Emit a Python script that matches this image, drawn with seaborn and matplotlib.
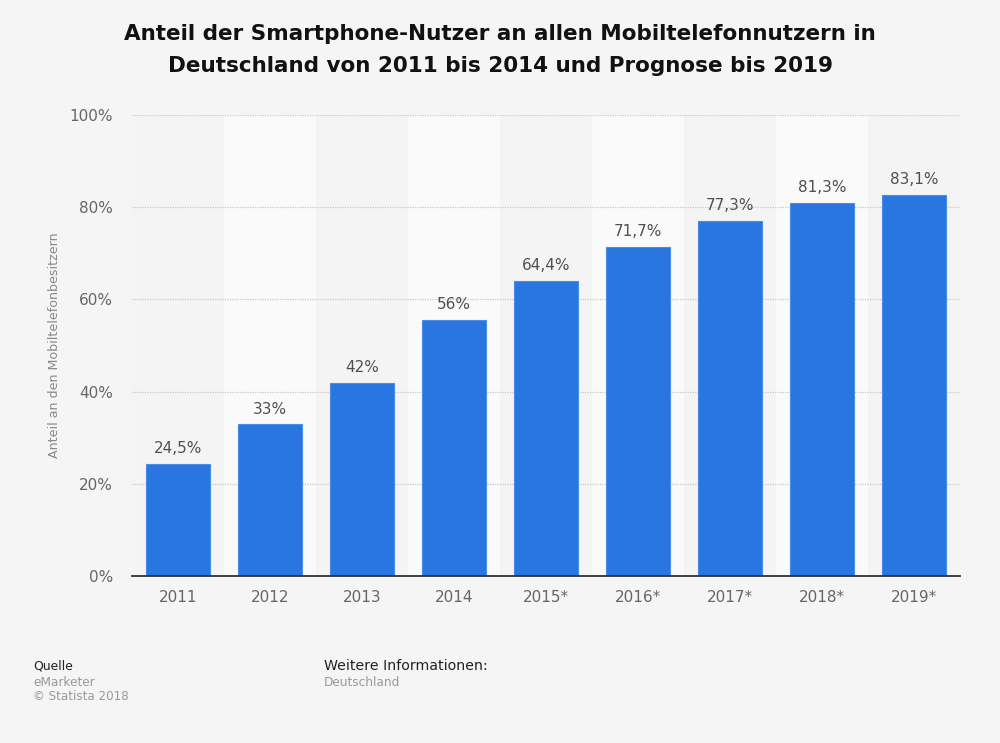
import matplotlib
matplotlib.use("Agg")
import matplotlib.pyplot as plt
import pandas as pd
import seaborn as sns

years = ["2011", "2012", "2013", "2014", "2015*", "2016*", "2017*", "2018*", "2019*"]
# bar heights, they sit slightly under the printed labels
shares = [24.3, 32.9, 41.9, 55.6, 64.0, 71.4, 77.0, 80.9, 82.7]
bar_labels = ["24,5%", "33%", "42%", "56%", "64,4%", "71,7%", "77,3%", "81,3%", "83,1%"]
y_ticks = [0, 20, 40, 60, 80, 100]
y_tick_labels = ["0%", "20%", "40%", "60%", "80%", "100%"]

BG = "#f5f5f5"
BLUE = "#2976e0"

sns.set_theme(style="white", rc={"figure.facecolor": BG, "axes.facecolor": BG, "font.family": "DejaVu Sans"})

df = pd.DataFrame({"Jahr": years, "Anteil": shares})

fig = plt.figure(figsize=(10, 7.43), dpi=100)
ax = fig.add_axes([132 / 1000, 1 - 576 / 743, 828 / 1000, 461 / 743])

# alternating column bands behind the bars
for i in range(len(years)):
    ax.axvspan(i - 0.5, i + 0.5, color="#fafafa" if i % 2 else "#f4f4f4", lw=0, zorder=0)

sns.barplot(data=df, x="Jahr", y="Anteil", color=BLUE, saturation=1, width=0.685,
            edgecolor="#4a8de6", linewidth=0.8, ax=ax, zorder=3)

ax.set_xlim(-0.5, len(years) - 0.5)
ax.set_ylim(0, 100)
ax.set_yticks(y_ticks)
ax.set_yticklabels(y_tick_labels)
ax.set_xlabel("")
ax.set_ylabel("Anteil an den Mobiltelefonbesitzern", fontsize=9.1, color="#888888")
ax.yaxis.set_label_coords(-0.0857, 0.5)
ax.yaxis.grid(True, color="#c8c8c8", linestyle=(0, (1, 1)), linewidth=0.9)
ax.xaxis.grid(False)
ax.set_axisbelow(False)
for line in ax.get_ygridlines():
    line.set_zorder(1)
ax.tick_params(axis="x", length=0, labelsize=11, labelcolor="#666666", pad=10)
ax.tick_params(axis="y", length=0, labelsize=11, labelcolor="#666666", pad=13.5)

for side in ["top", "left", "right"]:
    ax.spines[side].set_visible(False)
ax.spines["bottom"].set_color("#333333")
ax.spines["bottom"].set_linewidth(1.3)
ax.spines["bottom"].set_zorder(5)

for container in ax.containers:
    ax.bar_label(container, labels=bar_labels, padding=5.5, fontsize=11, color="#505050")

fig.text(0.5, 1 - 34 / 743, "Anteil der Smartphone-Nutzer an allen Mobiltelefonnutzern in",
         ha="center", va="center", fontsize=15.45, fontweight="bold", color="#111111")
fig.text(0.5, 1 - 66 / 743, "Deutschland von 2011 bis 2014 und Prognose bis 2019",
         ha="center", va="center", fontsize=15.45, fontweight="bold", color="#111111")

fig.text(33 / 1000, 1 - 666 / 743, "Quelle", va="center", fontsize=8.9, color="#222222")
fig.text(33 / 1000, 1 - 682 / 743, "eMarketer", va="center", fontsize=8.7, color="#999999")
fig.text(33 / 1000, 1 - 697 / 743, "© Statista 2018", va="center", fontsize=8.6, color="#999999")
fig.text(324 / 1000, 1 - 666 / 743, "Weitere Informationen:", va="center", fontsize=10.2, color="#222222")
fig.text(324 / 1000, 1 - 682 / 743, "Deutschland", va="center", fontsize=8.7, color="#999999")

fig.savefig("out.png", dpi=100, facecolor=BG)
